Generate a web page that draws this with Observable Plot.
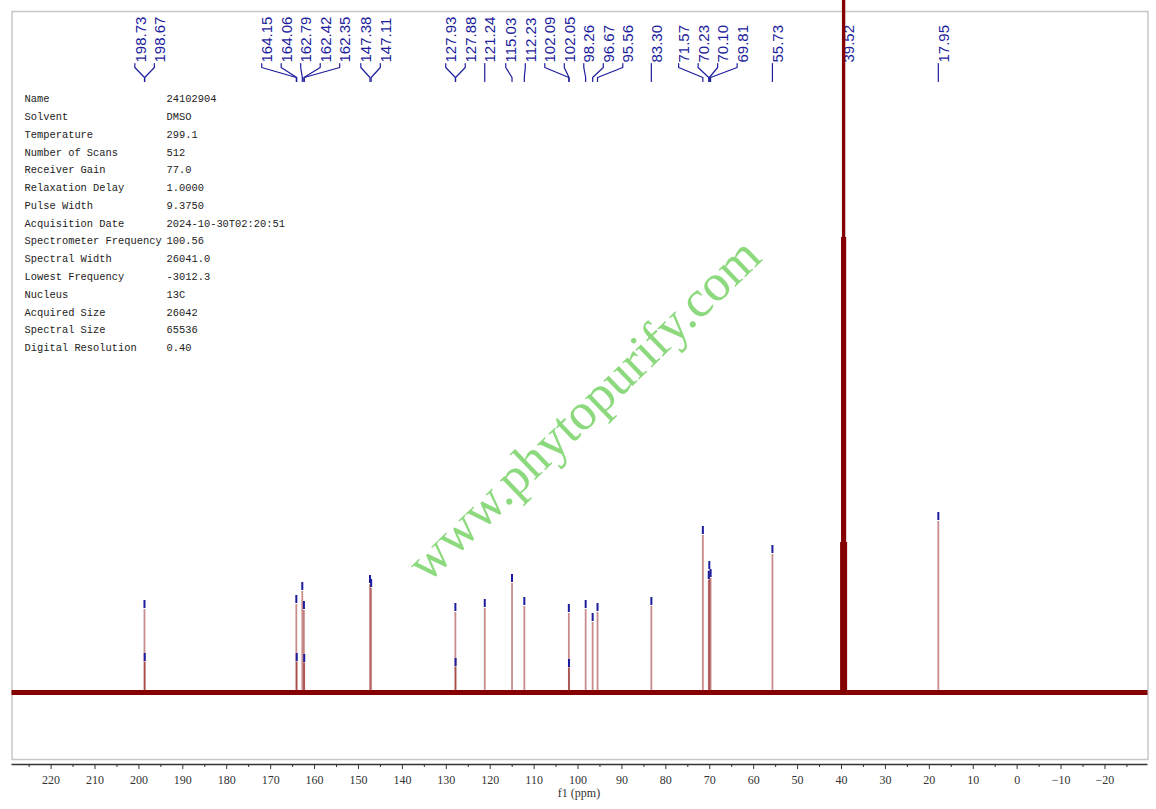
<!DOCTYPE html>
<html>
<head>
<meta charset="utf-8">
<script src="https://cdn.jsdelivr.net/npm/d3@7"></script>
<script src="https://cdn.jsdelivr.net/npm/@observablehq/plot@0.6"></script>
<style>
  body { margin: 0; background: #fff; }
  #chart svg { display: block; }
</style>
</head>
<body>
<div id="chart"></div>
<script>
// Picos del espectro 13C (ppm) y altura (unidades arbitrarias)
const shifts  = [198.73, 198.67, 164.15, 164.06, 162.79, 162.42, 162.35, 147.38, 147.11,
                 127.93, 127.88, 121.24, 115.03, 112.23, 102.09, 102.05, 98.26, 96.67, 95.56,
                 83.30, 71.57, 70.23, 70.10, 69.81, 55.73, 17.95]
const heights = [83, 30, 88, 30, 101, 82, 29, 108, 104,
                 80, 25, 84, 109, 86, 79, 24, 83, 70, 80,
                 86, 157, 112, 122, 114, 138, 171]

// Septete del DMSO-d6 (sale del cuadro por arriba)
const solventShifts  = [40.15, 39.94, 39.73, 39.52, 39.31, 39.10, 38.89]
const solventHeights = [150, 455, 900, 1050, 900, 455, 150]

// Etiquetas de picos (incluye el solvente)
const labelShifts = [198.73, 198.67, 164.15, 164.06, 162.79, 162.42, 162.35, 147.38, 147.11,
                     127.93, 127.88, 121.24, 115.03, 112.23, 102.09, 102.05, 98.26, 96.67, 95.56,
                     83.30, 71.57, 70.23, 70.10, 69.81, 55.73, 39.52, 17.95]

// Parámetros de adquisición
const infoKeys = ["Name", "Solvent", "Temperature", "Number of Scans", "Receiver Gain",
                  "Relaxation Delay", "Pulse Width", "Acquisition Date", "Spectrometer Frequency",
                  "Spectral Width", "Lowest Frequency", "Nucleus", "Acquired Size",
                  "Spectral Size", "Digital Resolution"]
const infoValues = ["24102904", "DMSO", "299.1", "512", "77.0", "1.0000", "9.3750",
                    "2024-10-30T02:20:51", "100.56", "26041.0", "-3012.3", "13C", "26042",
                    "65536", "0.40"]

const majorTicks = [220, 210, 200, 190, 180, 170, 160, 150, 140, 130, 120, 110, 100,
                    90, 80, 70, 60, 50, 40, 30, 20, 10, 0, -10, -20]
const minorTicks = [225, 215, 205, 195, 185, 175, 165, 155, 145, 135, 125, 115, 105,
                    95, 85, 75, 65, 55, 45, 35, 25, 15, 5, -5, -15, -25]

const xDomain = [228.9, -29.8]
const yDomain = [-67, 681]

const W = 1156, H = 809
const mL = 11.5, mR = 8.5, mT = 11, mB = 50
const blue = "#1c1c9c"
const red = "#850000"

const peaks = shifts.map((s, i) => ({ppm: s, h: heights[i]}))
const solvent = solventShifts.map((s, i) => ({ppm: s, h: solventHeights[i]}))

/* escalas para ubicar etiquetas */
const xs = Plot.scale({x: {domain: xDomain, range: [mL, W - mR]}})
const ys = Plot.scale({y: {domain: yDomain, range: [H - mB, mT]}})

// agrupamos etiquetas que se pisan y las repartimos alrededor del promedio
const gap = 19.5
let groups = labelShifts.map(s => ({px: [xs.apply(s)], items: [s]}))
const start = g => d3.mean(g.px) - (g.px.length - 1) / 2 * gap
let merged = true
while (merged) {
  merged = false
  for (let i = 0; i < groups.length - 1; i++) {
    const a = groups[i], b = groups[i + 1]
    const aEnd = start(a) + (a.px.length - 1) * gap
    if (start(b) - aEnd < gap) {
      groups.splice(i, 2, {px: a.px.concat(b.px), items: a.items.concat(b.items)})
      merged = true
      break
    }
  }
}
const labels = groups.flatMap(g => g.items.map((s, k) => ({s, lx: xs.invert(start(g) + k * gap)})))

const connectors = labels.flatMap(l => [
  {key: l.s, x: l.lx, y: ys.invert(63)},
  {key: l.s, x: l.lx, y: ys.invert(67)},
  {key: l.s, x: l.s,  y: ys.invert(77)},
  {key: l.s, x: l.s,  y: ys.invert(81)}
])

const chart = Plot.plot({
  width: W,
  height: H,
  marginLeft: mL,
  marginRight: mR,
  marginTop: mT,
  marginBottom: mB,
  style: {background: "white", fontFamily: "Liberation Sans"},
  x: {domain: xDomain},
  y: {domain: yDomain, axis: null},
  marks: [
    Plot.frame({stroke: "#c8c8c8", strokeWidth: 1.5}),

    // tabla de parámetros
    Plot.text([infoKeys.join("\n")], {
      text: d => d, frameAnchor: "top-left", dx: 12.5, dy: 209.5,
      textAnchor: "start", lineAnchor: "middle", lineHeight: 1.71,
      fontSize: 10.4, fontFamily: "Liberation Mono", fill: "#222"
    }),
    Plot.text([infoValues.join("\n")], {
      text: d => d, frameAnchor: "top-left", dx: 154.5, dy: 209.5,
      textAnchor: "start", lineAnchor: "middle", lineHeight: 1.71,
      fontSize: 10.4, fontFamily: "Liberation Mono", fill: "#222"
    }),

    // marca de agua
    Plot.text(["www.phytopurify.com"], {
      text: d => d, frameAnchor: "middle", dx: 4, dy: 24, rotate: -44,
      fontSize: 52, fontFamily: "Liberation Serif", fill: "#8cd97e"
    }),

    // línea de base
    Plot.ruleY([0], {stroke: red, strokeWidth: 5}),

    // picos
    Plot.ruleX(peaks, {x: "ppm", y1: 0, y2: "h", stroke: red, strokeOpacity: 0.45, strokeWidth: 1.8}),
    Plot.ruleX(peaks, {x: "ppm", y1: d => d.h + 1, y2: d => d.h + 9, stroke: blue, strokeWidth: 2}),

    // etiquetas de desplazamiento
    Plot.text(labels, {
      x: "lx", text: d => d.s.toFixed(2), frameAnchor: "top", dy: 51,
      rotate: -90, textAnchor: "start", fontSize: 15, fill: blue,
      fontFamily: "Liberation Sans"
    }),
    Plot.line(connectors, {x: "x", y: "y", z: "key", stroke: blue, strokeWidth: 1.2}),

    // solvente
    Plot.ruleX(solvent, {x: "ppm", y1: 0, y2: "h", stroke: red, strokeWidth: 1.5}),

    // eje x
    Plot.ruleY([yDomain[0]], {dy: 5, stroke: "#333", strokeWidth: 1.5}),
    Plot.axisX(minorTicks, {tickSize: 3, dy: 5, tickFormat: () => "", stroke: "#333"}),
    Plot.axisX(majorTicks, {
      tickSize: 5, dy: 5, tickPadding: 6, label: null, stroke: "#333", fill: "#333",
      fontSize: 12, fontFamily: "Liberation Serif"
    }),
    Plot.text(["f1 (ppm)"], {
      text: d => d, frameAnchor: "bottom", dx: -1, dy: 37,
      fontSize: 12, fontFamily: "Liberation Serif", fill: "#333"
    })
  ]
})

d3.select('#chart').append(() => chart)
</script>
</body>
</html>
